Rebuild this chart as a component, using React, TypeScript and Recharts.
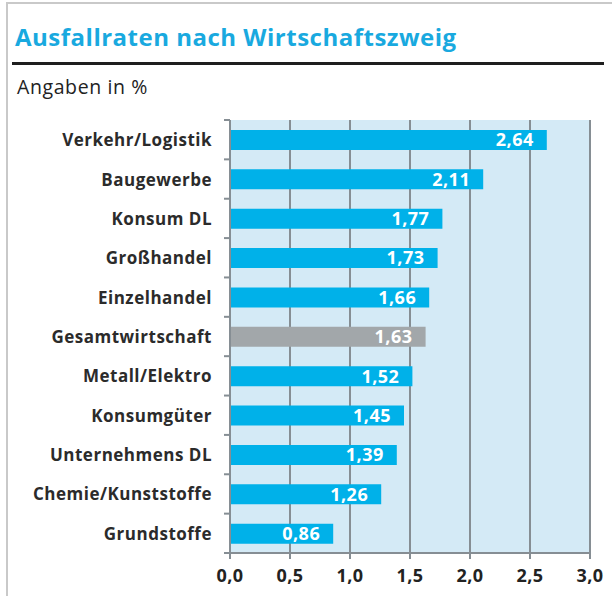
import { BarChart, Bar, XAxis, YAxis, CartesianGrid, Cell, LabelList } from 'recharts';

const categories = [
  'Verkehr/Logistik',
  'Baugewerbe',
  'Konsum DL',
  'Großhandel',
  'Einzelhandel',
  'Gesamtwirtschaft',
  'Metall/Elektro',
  'Konsumgüter',
  'Unternehmens DL',
  'Chemie/Kunststoffe',
  'Grundstoffe',
];
const rates = [2.64, 2.11, 1.77, 1.73, 1.66, 1.63, 1.52, 1.45, 1.39, 1.26, 0.86];
const xTicks = [0, 0.5, 1, 1.5, 2, 2.5, 3];

const BLUE = '#00b1e9';
const GREY = '#a2a7aa';
const GRID = '#868e94';
const FONT = '"Open Sans", Lato, sans-serif';

const data = categories.map((name, i) => ({ name, value: rates[i] }));

const fmt = (v: number, digits: number) => v.toFixed(digits).replace('.', ',');

const PLOT_TOP = 120;
const PLOT_H = 433;
const BAND = PLOT_H / categories.length;

function CategoryTick(props: any) {
  const { x, y, payload, index } = props;
  const axisX = x + 18;
  return (
    <g>
      <text
        x={x}
        y={y}
        textAnchor="end"
        dominantBaseline="central"
        fontFamily={FONT}
        fontWeight={700}
        fontSize={17}
        letterSpacing={0.5}
        fill="#2b2b2b"
      >
        {payload.value}
      </text>
      <line x1={axisX - 6} x2={axisX} y1={y - BAND / 2} y2={y - BAND / 2} stroke={GRID} strokeWidth={2} />
      {index === categories.length - 1 && (
        <line x1={axisX - 6} x2={axisX} y1={y + BAND / 2} y2={y + BAND / 2} stroke={GRID} strokeWidth={2} />
      )}
    </g>
  );
}

export default function App() {
  return (
    <div style={{ position: 'relative', width: 612, height: 596, background: '#fff', overflow: 'hidden' }}>
      <style>{`body{margin:0}`}</style>
      <div style={{ position: 'absolute', left: 6, top: 2, right: 0, height: 2, background: '#c9c9c9' }} />
      <div style={{ position: 'absolute', left: 6, top: 2, width: 2, bottom: 0, background: '#c9c9c9' }} />
      <div
        style={{
          position: 'absolute',
          left: 15,
          top: 20,
          fontFamily: FONT,
          fontWeight: 700,
          fontSize: 24,
          letterSpacing: 0.5,
          color: '#19a9df',
          whiteSpace: 'nowrap',
        }}
      >
        Ausfallraten nach Wirtschaftszweig
      </div>
      <div style={{ position: 'absolute', left: 12, top: 62, width: 592, height: 3, background: '#1e1e1e' }} />
      <div
        style={{
          position: 'absolute',
          left: 17,
          top: 73,
          fontFamily: FONT,
          fontSize: 19.5,
          letterSpacing: 0.6,
          color: '#222',
          whiteSpace: 'nowrap',
        }}
      >
        Angaben in %
      </div>
      <div style={{ position: 'absolute', left: 0, top: 0 }}>
        <BarChart
          width={612}
          height={596}
          data={data}
          layout="vertical"
          margin={{ top: PLOT_TOP, right: 22, bottom: 8, left: 0 }}
          barSize={20}
        >
          <CartesianGrid horizontal={false} fill="#d4eaf6" stroke={GRID} strokeWidth={2} />
          <XAxis
            type="number"
            domain={[0, 3]}
            ticks={xTicks}
            height={35}
            tickSize={6}
            tickMargin={10}
            tickFormatter={(v: number) => fmt(v, 1)}
            tick={{ fontFamily: FONT, fontWeight: 700, fontSize: 18, letterSpacing: 0.5, fill: '#222' }}
            axisLine={{ stroke: GRID, strokeWidth: 2 }}
            tickLine={{ stroke: GRID, strokeWidth: 2 }}
          />
          <YAxis
            type="category"
            dataKey="name"
            width={230}
            tickSize={6}
            tickMargin={12}
            tickLine={false}
            axisLine={{ stroke: GRID, strokeWidth: 2 }}
            tick={<CategoryTick />}
            interval={0}
          />
          <Bar dataKey="value" isAnimationActive={false}>
            {data.map((d, i) => (
              <Cell key={i} fill={d.name === 'Gesamtwirtschaft' ? GREY : BLUE} />
            ))}
            <LabelList
              dataKey="value"
              position="insideRight"
              offset={13}
              formatter={(v: any) => fmt(Number(v), 2)}
              style={{ fontFamily: FONT, fontWeight: 700, fontSize: 18, letterSpacing: 0.5, fill: '#fff' }}
            />
          </Bar>
        </BarChart>
      </div>
    </div>
  );
}
